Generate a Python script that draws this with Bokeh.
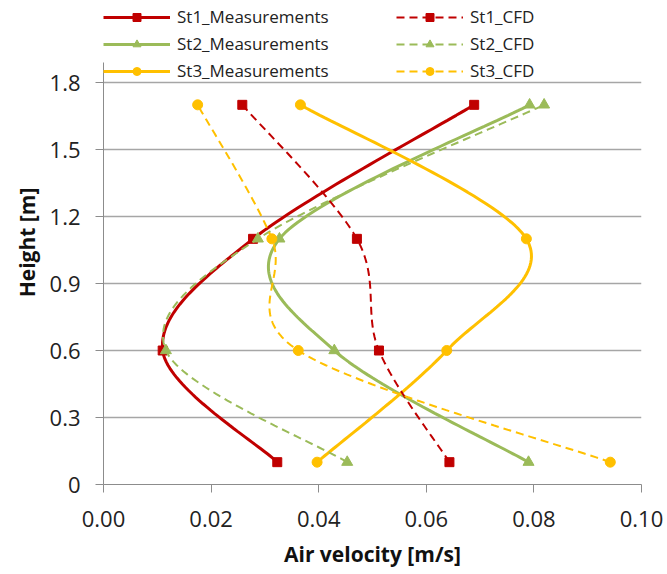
from bokeh.plotting import figure
from bokeh.models import (Range1d, FixedTicker, CustomJSTickFormatter, Legend, LegendItem)
from bokeh.embed import file_html
from bokeh.resources import INLINE

# ---- data ----
heights = [0.1, 0.6, 1.1, 1.7]
st1_meas = [0.0323, 0.0110, 0.0278, 0.0689]
st2_meas = [0.0790, 0.0429, 0.0327, 0.0792]
st3_meas = [0.0397, 0.0638, 0.0786, 0.0366]
st1_cfd = [0.0643, 0.0512, 0.0471, 0.0258]
st2_cfd = [0.0453, 0.0116, 0.0287, 0.0819]
st3_cfd = [0.0942, 0.0362, 0.0313, 0.0175]
y_ticks = [0, 0.3, 0.6, 0.9, 1.2, 1.5, 1.8]
x_ticks = [0.0, 0.02, 0.04, 0.06, 0.08, 0.10]

RED = "#C00000"
GREEN = "#9BBB59"
YELLOW = "#FFC000"

# plot area: 1.8 sits 82px below the top, 0 at 484px -> top of frame in data units
Y_TOP = 1.8 * 484 / (484 - 82)


def smooth(xs, ys, n=40):
    """Excel-like smoothed line (Catmull-Rom Bezier) through the data points."""
    pts = list(zip(xs, ys))
    m = len(pts)
    ox, oy = [], []
    for i in range(m - 1):
        p0 = pts[i - 1] if i > 0 else pts[i]
        p1 = pts[i]
        p2 = pts[i + 1]
        p3 = pts[i + 2] if i + 2 < m else pts[i + 1]
        c1 = (p1[0] + (p2[0] - p0[0]) / 6, p1[1] + (p2[1] - p0[1]) / 6)
        c2 = (p2[0] - (p3[0] - p1[0]) / 6, p2[1] - (p3[1] - p1[1]) / 6)
        for k in range(n + (1 if i == m - 2 else 0)):
            t = k / n
            a = (1 - t) ** 3
            b = 3 * (1 - t) ** 2 * t
            c = 3 * (1 - t) * t ** 2
            d = t ** 3
            ox.append(a * p1[0] + b * c1[0] + c * c2[0] + d * p2[0])
            oy.append(a * p1[1] + b * c1[1] + c * c2[1] + d * p2[1])
    return ox, oy


p = figure(width=667, height=574, output_backend="svg", toolbar_location=None,
           x_range=Range1d(0, 0.10), y_range=Range1d(0, Y_TOP),
           min_border_left=103, min_border_right=26, min_border_bottom=90,
           min_border_top=0)
p.outline_line_color = None
p.background_fill_color = "white"
p.border_fill_color = "white"

series = [
    ("St1_Measurements", st1_meas, RED, "square", 9, None, 3),
    ("St2_Measurements", st2_meas, GREEN, "triangle", 11, None, 3),
    ("St3_Measurements", st3_meas, YELLOW, "circle", 10, None, 3),
    ("St1_CFD", st1_cfd, RED, "square", 9, "8 5", 2),
    ("St2_CFD", st2_cfd, GREEN, "triangle", 11, "8 5", 2),
    ("St3_CFD", st3_cfd, YELLOW, "circle", 10, "8 5", 2),
]

items = []
for name, xs, col, mk, sz, dash, lw in series:
    sx, sy = smooth(xs, heights)
    kw = {}
    if dash:
        kw["line_dash"] = dash
    r1 = p.line(sx, sy, line_color=col, line_width=lw, **kw)
    r2 = p.scatter(xs, heights, marker=mk, size=sz, fill_color=col, line_color=col)
    items.append(LegendItem(label=name, renderers=[r1, r2]))

legend = Legend(items=items, orientation="vertical", nrows=3,
                padding=0, margin=0, spacing=4,
                glyph_width=67, glyph_height=20, label_standoff=7,
                label_width=215, label_height=20,
                label_text_font="Open Sans", label_text_font_size="17px",
                label_text_color="#222222",
                border_line_color=None, background_fill_alpha=0,
                location=(0, 402))
p.add_layout(legend, "center")

# axes
p.xaxis.ticker = FixedTicker(ticks=x_ticks)
p.yaxis.ticker = FixedTicker(ticks=y_ticks)
p.yaxis.bounds = (0, 1.89)
p.xaxis.formatter = CustomJSTickFormatter(code="return tick.toFixed(2);")
p.yaxis.formatter = CustomJSTickFormatter(code="return Math.abs(tick) < 1e-9 ? '0' : tick.toFixed(1);")
for ax in (p.xaxis, p.yaxis):
    ax.axis_line_color = "#8C8C8C"
    ax.major_tick_line_color = "#8C8C8C"
    ax.major_tick_out = 8
    ax.major_tick_in = 0
    ax.minor_tick_out = 0
    ax.minor_tick_in = 0
    ax.major_label_text_font = "Open Sans"
    ax.major_label_text_font_size = "22px"
    ax.major_label_text_color = "#222222"
    ax.axis_label_text_font = "Open Sans"
    ax.axis_label_text_font_style = "bold"
    ax.axis_label_text_font_size = "21px"
    ax.axis_label_text_color = "#111111"
p.xaxis.axis_label = "Air velocity [m/s]"
p.yaxis.axis_label = "Height [m]"
p.xaxis.major_label_standoff = 18
p.yaxis.major_label_standoff = 15
p.xaxis.axis_label_standoff = 10
p.yaxis.axis_label_standoff = 6

p.xgrid.grid_line_color = None
p.ygrid.grid_line_color = "#A6A6A6"
p.ygrid.grid_line_width = 1.5

open("out.html", "w").write(file_html(p, INLINE))
